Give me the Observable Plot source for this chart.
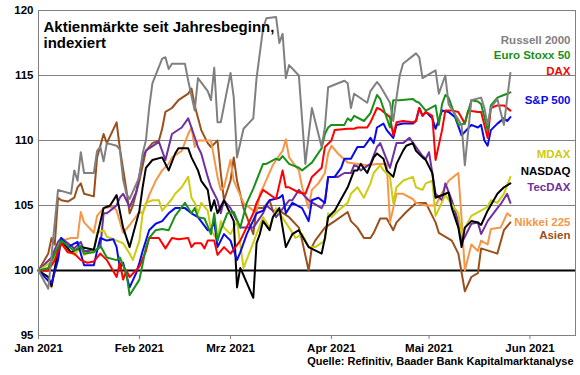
<!DOCTYPE html>
<html>
<head>
<meta charset="utf-8">
<script src="https://cdn.jsdelivr.net/npm/d3@7"></script>
<script src="https://cdn.jsdelivr.net/npm/@observablehq/plot@0.6"></script>
<style>
  html, body { margin: 0; padding: 0; background: #fff; }
  #chart { width: 580px; height: 375px; }
</style>
</head>
<body>
<div id="chart"></div>
<script>
// ---- Data ----
const titleLines = ["Aktienmärkte seit Jahresbeginn,", "indexiert"];
const sourceText = "Quelle: Refinitiv, Baader Bank Kapitalmarktanalyse";
const monthNames = ["Jan", "Feb", "Mrz", "Apr", "Mai", "Jun"];
const monthTicks = ["2021-01-01", "2021-02-01", "2021-03-01", "2021-04-01", "2021-05-01", "2021-06-01"];
const yTicks = [95, 100, 105, 110, 115, 120];
const gridValues = [105, 110, 115];
const baseValue = [100];

const russell = [["01-01",100],["01-04",98.6],["01-07",106.2],["01-11",105.9],["01-12",107.7],["01-13",106.9],["01-14",109.1],["01-15",107.5],["01-18",107.5],["01-19",109.2],["01-20",109.5],["01-21",108.4],["01-22",109.8],["01-25",109.6],["01-26",109.3],["01-27",107.0],["01-28",105.9],["01-29",105.5],["02-01",107.2],["02-02",109.0],["02-03",110.0],["02-04",112.5],["02-05",114.4],["02-08",116.3],["02-09",116.4],["02-10",115.5],["02-11",115.9],["02-15",115.9],["02-16",114.6],["02-18",112.3],["02-19",114.8],["02-22",113.8],["02-23",113.1],["02-24",115.6],["02-25",111.4],["02-26",111.4],["03-01",115.2],["03-02",113.3],["03-03",108.7],["03-05",110.9],["03-08",111.7],["03-09",114.8],["03-11",118.6],["03-12",119.4],["03-15",119.5],["03-16",117.5],["03-17",118.2],["03-18",114.8],["03-19",115.8],["03-22",115.0],["03-24",108.2],["03-26",112.5],["03-29",109.5],["03-30",111.0],["03-31",114.1],["04-05",114.6],["04-06",114.4],["04-07",112.5],["04-08",113.6],["04-12",112.9],["04-13",113.8],["04-15",114.5],["04-16",114.2],["04-19",112.9],["04-20",111.5],["04-21",113.3],["04-22",115.0],["04-23",115.9],["04-27",116.7],["04-28",116.4],["04-29",114.8],["05-03",115.4],["05-04",113.6],["05-06",115.0],["05-07",112.8],["05-11",111.2],["05-12",108.1],["05-14",113.1],["05-17",113.3],["05-18",112.5],["05-19",111.2],["05-20",112.5],["05-22",113.2],["05-24",111.2],["05-26",115.2]];

const euroStoxx = [["01-01",100],["01-04",100.2],["01-06",101.3],["01-08",102.3],["01-10",101.9],["01-12",101.5],["01-14",101.9],["01-15",101.3],["01-18",101.4],["01-20",101.9],["01-22",101.0],["01-25",100.8],["01-26",101.0],["01-28",99.8],["01-29",98.1],["02-01",99.3],["02-02",100.5],["02-03",101.8],["02-04",102.5],["02-06",103.1],["02-08",103.2],["02-10",103.1],["02-12",104.2],["02-15",105.2],["02-17",104.4],["02-18",104.8],["02-19",104.1],["02-21",104.0],["02-23",102.8],["02-24",104.4],["02-25",102.3],["02-26",103.1],["02-28",104.4],["03-02",104.5],["03-04",103.3],["03-06",105.2],["03-08",106.3],["03-11",108.2],["03-12",108.2],["03-15",108.6],["03-16",108.5],["03-17",108.8],["03-19",108.2],["03-22",107.9],["03-23",107.7],["03-25",108.1],["03-26",108.3],["03-29",109.4],["03-30",110.5],["03-31",111.0],["04-01",111.2],["04-05",111.2],["04-06",111.7],["04-07",111.5],["04-08",111.9],["04-11",111.5],["04-13",112.1],["04-15",113.5],["04-16",113.2],["04-19",111.0],["04-20",113.1],["04-22",113.1],["04-26",113.2],["04-27",113.0],["04-28",112.9],["04-30",112.3],["05-03",112.7],["05-04",111.2],["05-05",112.8],["05-06",113.5],["05-07",113.3],["05-10",111.2],["05-12",111.3],["05-14",113.1],["05-16",113.0],["05-17",112.8],["05-19",110.8],["05-20",112.7],["05-22",113.3],["05-24",113.5],["05-25",113.6],["05-26",113.7]];

const dax = [["01-01",100],["01-04",100.0],["01-06",100.8],["01-08",102.1],["01-10",101.4],["01-12",101.3],["01-14",100.8],["01-16",100.6],["01-18",100.7],["01-20",101.3],["01-22",100.8],["01-25",99.5],["01-26",100.6],["01-27",99.3],["01-28",100.0],["01-29",99.5],["02-01",100.3],["02-03",101.5],["02-04",102.5],["02-07",102.5],["02-09",101.7],["02-11",102.5],["02-13",102.4],["02-16",102.5],["02-17",101.8],["02-18",102.1],["02-20",102.1],["02-21",101.7],["02-22",102.3],["02-24",102.3],["02-25",101.2],["02-27",101.8],["03-01",101.3],["03-04",102.3],["03-08",104.4],["03-09",105.2],["03-11",106.2],["03-15",105.5],["03-17",107.7],["03-18",106.4],["03-19",106.4],["03-22",106.0],["03-24",105.9],["03-26",107.2],["03-29",107.9],["03-30",109.5],["04-01",110.0],["04-02",110.8],["04-06",110.9],["04-08",110.9],["04-09",111.0],["04-12",111.0],["04-13",111.4],["04-15",112.5],["04-16",112.4],["04-19",111.8],["04-20",110.4],["04-21",111.4],["04-23",111.5],["04-26",111.4],["04-27",111.5],["04-28",112.5],["04-29",111.9],["04-30",112.2],["05-02",111.9],["05-03",108.5],["05-05",110.8],["05-06",112.3],["05-08",112.3],["05-10",112.2],["05-12",111.3],["05-13",112.3],["05-16",112.2],["05-17",112.2],["05-19",110.2],["05-20",112.5],["05-22",112.7],["05-24",112.7],["05-26",112.3]];

const sp500 = [["01-01",100],["01-04",99.2],["01-05",99.0],["01-07",100.8],["01-08",102.5],["01-10",101.8],["01-13",102.2],["01-15",100.4],["01-18",100.4],["01-19",101.5],["01-20",102.5],["01-22",102.3],["01-24",102.4],["01-25",101.8],["01-26",100.2],["01-27",100.6],["01-29",98.7],["01-31",99.8],["02-01",100.6],["02-02",101.5],["02-04",103.1],["02-06",103.6],["02-08",103.8],["02-10",104.4],["02-12",104.8],["02-15",104.8],["02-17",104.4],["02-19",104.1],["02-22",103.1],["02-23",103.1],["02-24",103.8],["02-25",101.8],["02-27",102.8],["03-01",102.3],["03-03",100.8],["03-04",101.4],["03-06",102.8],["03-09",104.4],["03-11",104.6],["03-13",105.4],["03-16",105.6],["03-17",105.8],["03-18",104.4],["03-20",105.2],["03-23",104.8],["03-25",103.8],["03-26",105.4],["03-28",105.6],["03-30",105.2],["03-31",107.2],["04-02",107.2],["04-04",107.9],["04-05",108.6],["04-07",108.6],["04-09",109.5],["04-11",109.5],["04-13",110.2],["04-14",109.8],["04-15",111.0],["04-17",111.3],["04-18",110.8],["04-20",110.2],["04-21",111.2],["04-23",111.3],["04-26",111.3],["04-27",111.5],["04-28",112.5],["04-29",111.9],["04-30",112.2],["05-02",111.7],["05-03",110.9],["05-05",112.3],["05-07",112.2],["05-09",111.8],["05-11",110.4],["05-14",111.2],["05-16",111.0],["05-17",111.2],["05-18",110.0],["05-19",109.6],["05-20",110.8],["05-22",111.3],["05-24",111.7],["05-25",111.5],["05-26",111.8]];

const mdax = [["01-01",100],["01-04",100.5],["01-06",101.0],["01-07",101.8],["01-08",102.2],["01-10",101.5],["01-12",101.2],["01-14",101.8],["01-15",101.2],["01-18",101.5],["01-19",102.9],["01-21",103.1],["01-22",102.6],["01-25",102.3],["01-27",102.1],["01-29",101.3],["01-30",100.8],["02-01",102.3],["02-02",104.4],["02-03",105.2],["02-05",105.4],["02-07",105.4],["02-08",104.6],["02-11",105.5],["02-12",105.9],["02-14",106.4],["02-16",107.2],["02-17",105.6],["02-18",105.2],["02-19",104.4],["02-20",105.2],["02-22",104.6],["02-23",103.1],["02-25",102.3],["02-26",103.8],["02-27",103.3],["03-01",102.8],["03-03",103.8],["03-05",100.2],["03-09",102.8],["03-11",104.1],["03-13",103.3],["03-15",104.8],["03-19",103.3],["03-21",102.5],["03-23",102.8],["03-25",101.8],["03-27",101.8],["03-30",102.3],["03-31",104.4],["04-01",104.1],["04-03",104.6],["04-06",105.2],["04-07",105.9],["04-09",106.4],["04-11",105.6],["04-13",106.7],["04-14",107.5],["04-16",108.1],["04-17",107.7],["04-19",107.2],["04-20",105.2],["04-21",106.4],["04-23",106.9],["04-26",107.2],["04-27",106.4],["04-29",106.2],["04-30",106.7],["05-02",106.9],["05-03",104.2],["05-06",105.8],["05-10",104.4],["05-11",102.8],["05-14",104.2],["05-19",104.9],["05-20",105.4],["05-22",105.2],["05-24",105.9],["05-26",107.2]];

const nasdaq = [["01-01",100],["01-04",99.5],["01-05",98.8],["01-07",101.5],["01-08",102.3],["01-11",101.4],["01-14",101.8],["01-18",101.6],["01-21",104.8],["01-23",105.0],["01-25",105.8],["01-27",103.3],["01-29",101.8],["02-01",104.6],["02-02",106.4],["02-03",107.9],["02-05",108.5],["02-08",108.7],["02-10",107.7],["02-12",109.0],["02-13",109.4],["02-16",109.4],["02-17",108.7],["02-19",107.7],["02-20",106.9],["02-22",106.2],["02-23",104.6],["02-24",105.4],["02-25",104.4],["02-27",105.4],["03-02",103.8],["03-03",98.7],["03-04",100.2],["03-08",97.9],["03-09",102.1],["03-10",102.8],["03-11",103.8],["03-13",103.1],["03-14",104.1],["03-16",104.8],["03-18",101.8],["03-20",102.8],["03-22",103.1],["03-25",101.8],["03-29",101.3],["03-30",102.5],["03-31",104.1],["04-02",104.6],["04-06",106.4],["04-08",107.7],["04-09",107.7],["04-10",108.2],["04-12",107.5],["04-14",108.7],["04-15",109.0],["04-17",108.6],["04-18",107.7],["04-20",107.2],["04-21",108.2],["04-23",109.2],["04-24",109.6],["04-26",109.8],["04-27",109.2],["04-29",108.7],["04-30",108.5],["05-02",107.5],["05-03",105.6],["05-07",106.0],["05-08",104.8],["05-10",103.3],["05-11",101.8],["05-12",103.3],["05-14",103.8],["05-16",103.7],["05-17",103.5],["05-19",104.6],["05-22",105.9],["05-24",106.4],["05-26",106.7]];

const tecdax = [["01-01",100],["01-05",101.0],["01-07",102.2],["01-08",102.5],["01-12",101.7],["01-14",102.2],["01-15",101.5],["01-18",101.5],["01-20",101.8],["01-21",104.4],["01-22",104.4],["01-24",104.8],["01-25",105.0],["01-26",105.6],["01-27",105.9],["01-29",104.9],["01-31",106.0],["02-02",108.7],["02-03",109.2],["02-04",109.4],["02-07",109.9],["02-09",108.5],["02-11",110.5],["02-14",111.0],["02-16",111.7],["02-17",111.0],["02-19",109.5],["02-20",109.0],["02-22",107.2],["02-23",106.4],["02-25",105.4],["02-26",104.4],["02-27",105.4],["03-01",104.8],["03-04",103.3],["03-08",103.3],["03-11",104.4],["03-12",105.0],["03-14",104.6],["03-15",104.1],["03-19",105.4],["03-20",105.4],["03-22",106.2],["03-25",105.4],["03-29",104.8],["03-30",105.3],["03-31",107.2],["04-03",107.2],["04-05",107.5],["04-07",107.5],["04-08",108.1],["04-09",108.0],["04-10",107.7],["04-13",108.2],["04-15",109.5],["04-16",109.8],["04-19",107.9],["04-21",109.8],["04-23",109.8],["04-25",110.2],["04-27",109.5],["04-29",108.8],["04-30",108.6],["05-01",109.1],["05-03",105.9],["05-05",105.4],["05-06",106.7],["05-08",105.4],["05-10",103.7],["05-11",102.1],["05-14",103.6],["05-16",103.7],["05-17",102.8],["05-19",103.8],["05-22",104.8],["05-23",105.1],["05-25",105.9],["05-26",105.2]];

const nikkei = [["01-01",100],["01-04",99.5],["01-05",98.7],["01-07",101.5],["01-08",102.3],["01-11",102.5],["01-13",102.5],["01-14",104.5],["01-15",103.7],["01-18",102.9],["01-19",104.2],["01-21",104.8],["01-24",104.9],["01-25",104.6],["01-27",102.9],["01-29",103.5],["02-01",104.5],["02-02",104.4],["02-04",105.8],["02-06",106.9],["02-08",107.7],["02-10",108.2],["02-11",108.7],["02-14",109.2],["02-16",110.5],["02-17",111.0],["02-18",109.5],["02-19",110.0],["02-23",110.0],["02-25",107.2],["02-26",106.2],["02-27",106.4],["03-01",108.5],["03-02",106.9],["03-05",105.2],["03-07",104.8],["03-09",104.4],["03-10",105.9],["03-11",106.4],["03-14",108.1],["03-15",108.5],["03-17",109.2],["03-18",110.1],["03-19",108.7],["03-22",107.7],["03-23",106.4],["03-25",104.8],["03-26",106.2],["03-28",106.7],["03-30",107.5],["03-31",109.0],["04-01",109.6],["04-03",109.0],["04-06",108.3],["04-09",108.2],["04-12",108.1],["04-15",108.2],["04-18",108.2],["04-19",103.7],["04-21",105.9],["04-23",105.9],["04-26",105.5],["04-27",105.2],["04-30",105.0],["05-03",105.0],["05-07",106.9],["05-10",107.5],["05-11",104.0],["05-12",100.0],["05-14",102.0],["05-16",101.5],["05-17",102.3],["05-19",102.0],["05-20",103.2],["05-23",103.3],["05-25",104.4],["05-26",104.2]];

const asien = [["01-01",100],["01-04",101.3],["01-05",102.5],["01-06",102.0],["01-07",105.6],["01-08",105.4],["01-10",105.3],["01-12",105.6],["01-13",106.4],["01-14",106.7],["01-15",105.9],["01-18",105.7],["01-19",108.7],["01-21",110.5],["01-22",109.8],["01-25",111.4],["01-26",109.4],["01-27",107.8],["01-28",106.2],["01-29",104.4],["01-30",105.0],["02-01",106.9],["02-03",109.2],["02-05",109.8],["02-07",110.0],["02-08",110.9],["02-09",112.2],["02-11",112.5],["02-13",113.1],["02-16",113.6],["02-17",114.0],["02-18",112.7],["02-20",110.8],["02-22",109.8],["02-23",109.5],["02-25",110.0],["02-26",107.5],["02-27",105.4],["03-01",106.9],["03-02",108.7],["03-03",106.9],["03-05",104.8],["03-08",102.8],["03-09",104.8],["03-11",104.8],["03-13",105.4],["03-14",104.6],["03-16",104.6],["03-19",104.1],["03-22",103.3],["03-23",102.3],["03-25",100.0],["03-26",101.8],["03-27",102.3],["03-30",103.3],["04-02",103.8],["04-06",104.5],["04-07",103.8],["04-09",103.3],["04-11",102.5],["04-13",102.5],["04-14",102.9],["04-16",104.0],["04-18",104.0],["04-20",103.1],["04-21",103.7],["04-24",104.5],["04-27",105.2],["04-30",105.2],["05-02",104.2],["05-03",103.7],["05-04",102.9],["05-08",102.3],["05-10",101.3],["05-12",98.4],["05-14",99.5],["05-16",99.8],["05-17",101.7],["05-22",101.3],["05-24",103.1],["05-26",103.7]];

const seriesNames = ["Russell 2000", "Euro Stoxx 50", "DAX", "S&P 500", "MDAX", "NASDAQ", "TecDAX", "Nikkei 225", "Asien"];
const seriesData = [russell, euroStoxx, dax, sp500, mdax, nasdaq, tecdax, nikkei, asien];

// ---- Styling ----
const seriesColors = ["#808080", "#1a8f1a", "#ff0000", "#0a0ae6", "#cccc10", "#000000", "#7030a0", "#f79646", "#9a4f1c"];
const labelOffsets = [25, 40, 56, 85, 139, 156, 172, 207, 220]; // px below top of frame
const drawOrder = [8, 7, 6, 4, 5, 3, 2, 1, 0];

const toRows = (arr, name) => arr.map(([md, v]) => ({date: new Date("2021-" + md + "T00:00:00Z"), value: v, series: name}));

const lineMarks = drawOrder.map(i =>
  Plot.line(toRows(seriesData[i], seriesNames[i]), {x: "date", y: "value", stroke: seriesColors[i], strokeWidth: 2, strokeLinejoin: "round"})
);

const labelMarks = seriesNames.map((name, i) =>
  Plot.text([name], {frameAnchor: "top-right", dx: -5, dy: labelOffsets[i], textAnchor: "end", fill: seriesColors[i], fontSize: 11.5, fontWeight: "bold"})
);

const chart = Plot.plot({
  width: 580,
  height: 375,
  marginLeft: 38,
  marginRight: 5,
  marginTop: 10,
  marginBottom: 40,
  style: {fontFamily: "'Liberation Sans', Arial, sans-serif", fontWeight: "bold", background: "#fff", color: "#000", overflow: "visible"},
  x: {type: "utc", domain: [new Date("2021-01-01T00:00:00Z"), new Date("2021-06-15T00:00:00Z")]},
  y: {domain: [95, 120]},
  marks: [
    Plot.ruleY(gridValues, {stroke: "#808080", strokeWidth: 1}),
    Plot.ruleY(baseValue, {stroke: "#000", strokeWidth: 2}),
    ...lineMarks,
    Plot.frame({stroke: "#808080"}),
    Plot.axisX({
      ticks: monthTicks.map(s => new Date(s + "T00:00:00Z")),
      tickFormat: d => `${monthNames[d.getUTCMonth()]} ${d.getUTCFullYear()}`,
      tickSize: 4, tickPadding: 4, stroke: "#808080", fill: "#000",
      fontSize: 11.5, fontWeight: "bold", label: null
    }),
    Plot.axisY({ticks: yTicks, tickSize: 0, tickPadding: 5, fontSize: 11.5, fontWeight: "bold", label: null}),
    Plot.text([titleLines[0]], {frameAnchor: "top-left", dx: 5, dy: 11, textAnchor: "start", fontSize: 15, fontWeight: "bold", fill: "#000"}),
    Plot.text([titleLines[1]], {frameAnchor: "top-left", dx: 5, dy: 27, textAnchor: "start", fontSize: 15, fontWeight: "bold", fill: "#000"}),
    ...labelMarks,
    Plot.text([sourceText], {frameAnchor: "bottom-right", dx: -2, dy: 29, textAnchor: "end", fontSize: 11, fontWeight: "bold", fill: "#000"})
  ]
});
document.getElementById("chart").appendChild(chart);
</script>
</body>
</html>
